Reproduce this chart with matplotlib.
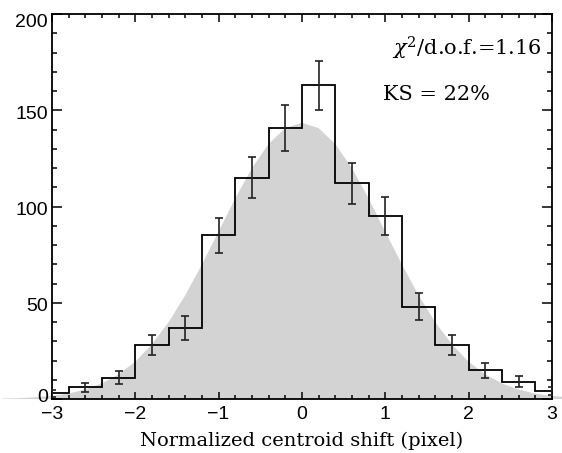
import numpy as np
import matplotlib
matplotlib.use("Agg")
import matplotlib.pyplot as plt
import matplotlib.transforms as mtransforms
from matplotlib.ticker import MultipleLocator

# Histogram of normalized centroid shifts (bin width 0.4 pixel)
bin_centers = [-3.0, -2.6, -2.2, -1.8, -1.4, -1.0, -0.6, -0.2,
               0.2, 0.6, 1.0, 1.4, 1.8, 2.2, 2.6, 3.0]
counts = [3, 6, 11, 28, 37, 85, 115, 141, 163, 112, 95, 48, 28, 15, 9, 4]
errors = [1.7, 2.4, 3.3, 5.3, 6.1, 9.2, 10.7, 11.9, 12.8, 10.6, 9.7, 6.9,
          5.3, 3.9, 3.0, 2.0]

# Expected distribution (grey shaded curve), read at 0.2 pixel steps
curve_x = [-3.6, -3.4, -3.2, -3.0, -2.8, -2.6, -2.4, -2.2, -2.0, -1.8,
           -1.6, -1.4, -1.2, -1.0, -0.8, -0.6, -0.4, -0.2, 0.0, 0.2,
           0.4, 0.6, 0.8, 1.0, 1.2, 1.4, 1.6, 1.8, 2.0, 2.2,
           2.4, 2.6, 2.8, 3.0, 3.2, 3.4, 3.6]
curve_y = [0.2, 0.4, 0.9, 1.6, 2.8, 4.9, 8.1, 12.8, 19.4, 28.4,
           39.9, 53.9, 69.9, 87.0, 104.2, 119.9, 132.5, 140.7, 143.5, 140.7,
           132.5, 119.9, 104.2, 87.0, 69.9, 53.9, 39.9, 28.4, 19.4, 12.8,
           8.1, 4.9, 2.8, 1.6, 0.9, 0.4, 0.2]

chi2_text = r"$\chi^2$/d.o.f.=1.16"
ks_text = "KS = 22%"

plt.rcParams["mathtext.fontset"] = "dejavuserif"

fig = plt.figure(figsize=(5.62, 4.53), dpi=100)
ax = fig.add_axes([0.0925, 0.1192, 0.8895, 0.8498])

ax.fill_between(curve_x, curve_y, 0, color="#d3d3d3", linewidth=0,
                clip_on=False, zorder=1)

half = 0.2
edges = [c - half for c in bin_centers] + [bin_centers[-1] + half]
ax.stairs(counts, edges, baseline=None, color="black", linewidth=1.3,
          zorder=3)
ax.errorbar(bin_centers, counts, yerr=errors, fmt="none", ecolor="#222222",
            elinewidth=1.2, capsize=3, capthick=1.2, zorder=4)

ax.set_xlim(-3, 3)
ax.set_ylim(0, 200)
ax.xaxis.set_major_locator(MultipleLocator(1))
ax.xaxis.set_minor_locator(MultipleLocator(0.2))
ax.yaxis.set_major_locator(MultipleLocator(50))
ax.yaxis.set_minor_locator(MultipleLocator(10))

ax.tick_params(axis="both", which="both", direction="in", top=True,
               right=True, width=1.1, colors="black")
ax.tick_params(axis="x", which="major", length=5.4, pad=5)
ax.tick_params(axis="x", which="minor", length=2.7)
ax.tick_params(axis="y", which="major", length=7.2, pad=3)
ax.tick_params(axis="y", which="minor", length=3.6)
for lab in ax.get_xticklabels() + ax.get_yticklabels():
    lab.set_fontfamily("Liberation Sans")
    lab.set_fontsize(14)
for s in ax.spines.values():
    s.set_linewidth(1.3)

ax.set_xlabel("Normalized centroid shift (pixel)", family="DejaVu Serif",
              fontsize=14, labelpad=6)

ax.text(0.98, 0.8935, chi2_text, transform=ax.transAxes, ha="right",
        va="baseline", family="DejaVu Serif", fontsize=15)
ax.text(0.662, 0.7766, ks_text, transform=ax.transAxes, ha="left",
        va="baseline", family="DejaVu Serif", fontsize=15)

# y labels sit like the original: "0" nudged up, "200" down
fig.canvas.draw()
shifts_px = {0: 4, 200: -6}
for tick, val in zip(ax.yaxis.get_major_ticks(), ax.get_yticks()):
    dy = shifts_px.get(int(round(val)), -2)
    off = mtransforms.ScaledTranslation(0, dy / 100, fig.dpi_scale_trans)
    tick.label1.set_transform(tick.label1.get_transform() + off)

fig.savefig("out.png", dpi=100)
